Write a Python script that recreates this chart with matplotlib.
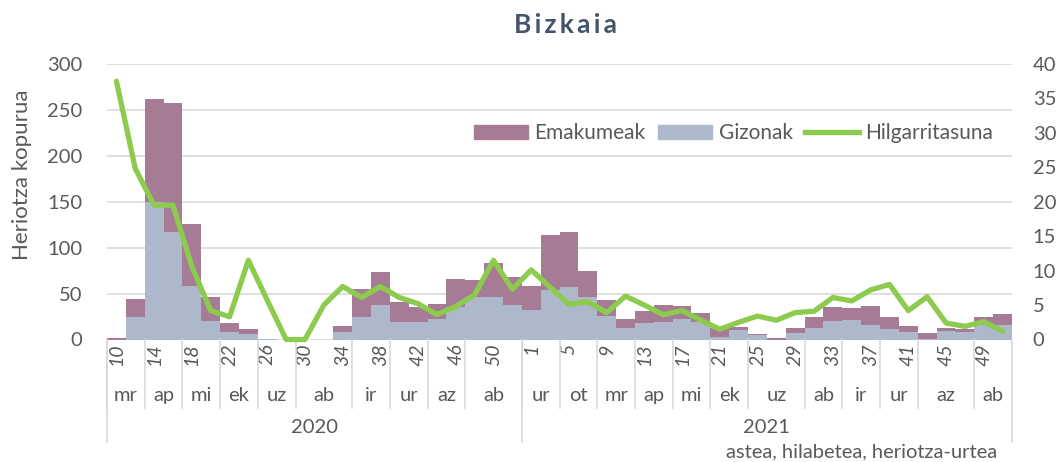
import numpy as np
import matplotlib.pyplot as plt
from matplotlib.patches import Patch
from matplotlib.lines import Line2D
import matplotlib.transforms as mtransforms

plt.rcParams['font.family'] = ['Lato', 'DejaVu Sans']

# week of each bar (2-week steps), 2020 then 2021
weeks_2020 = [10, 12, 14, 16, 18, 20, 22, 24, 26, 28, 30, 32, 34, 36, 38, 40, 42, 44, 46, 48, 50, 52]
weeks_2021 = [1, 3, 5, 7, 9, 11, 13, 15, 17, 19, 21, 23, 25, 27, 29, 31, 33, 35, 37, 39, 41, 43, 45, 47, 49, 51]

# months (label, number of bars) per year
months_2020 = ['mr', 'ap', 'mi', 'ek', 'uz', 'ab', 'ir', 'ur', 'az', 'ab']
month_bars_2020 = [2, 2, 2, 2, 2, 3, 2, 2, 2, 3]
months_2021 = ['ur', 'ot', 'mr', 'ap', 'mi', 'ek', 'uz', 'ab', 'ir', 'ur', 'az', 'ab']
month_bars_2021 = [2, 2, 2, 2, 2, 2, 3, 2, 2, 2, 3, 2]
years = ['2020', '2021']

gizonak = [0, 25, 150, 117, 58, 20, 8, 6, 1, 0, 0, 0, 8, 25, 38, 19, 19, 22, 35, 46, 46, 38,
           32, 54, 57, 46, 26, 13, 18, 19, 22, 19, 3, 10, 5, 0, 7, 12, 20, 21, 16, 11, 8, 1, 9, 8, 16, 16]
emakumeak = [2, 19, 112, 140, 68, 26, 10, 5, 0, 0, 0, 0, 7, 30, 36, 22, 16, 17, 31, 19, 37, 30,
             26, 60, 60, 29, 17, 9, 13, 19, 15, 10, 10, 4, 1, 2, 6, 13, 15, 13, 21, 14, 7, 6, 3, 3, 9, 12]
hilgarritasuna = [37.5, 24.8, 19.5, 19.5, 10.6, 4.2, 3.3, 11.5, 5.7, 0, 0, 5.0, 7.7, 6.1, 7.7, 6.1,
                  5.2, 3.6, 4.8, 6.5, 11.5, 7.3, 10.1, 7.6, 5.1, 5.5, 3.9, 6.3, 5.0, 3.6, 4.2, 2.8,
                  1.5, 2.5, 3.4, 2.8, 3.9, 4.1, 6.1, 5.6, 7.2, 8.0, 4.2, 6.2, 2.4, 1.9, 2.6, 1.2]

c_em = '#A57B95'
c_giz = '#ADB9CA'
c_line = '#8DCB4E'
c_text = '#595959'
c_grid = '#D9D9D9'

W, H = 1061, 462
fig = plt.figure(figsize=(W / 100, H / 100), dpi=100)
left, right, top, bottom = 107, 1012, 64, 339.5
ax = fig.add_axes([left / W, (H - bottom) / H, (right - left) / W, (bottom - top) / H])

week_labels = weeks_2020 + weeks_2021
x = np.arange(len(week_labels))

ax.bar(x, gizonak, width=1.0, color=c_giz, zorder=2)
ax.bar(x, emakumeak, width=1.0, bottom=gizonak, color=c_em, zorder=2)
ax.set_xlim(-0.5, len(x) - 0.5)
ax.set_ylim(0, 300)
ax.set_yticks(np.arange(0, 301, 50))
ax.grid(axis='y', color=c_grid, linewidth=1.2, zorder=0)
ax.set_axisbelow(True)
for s in ax.spines.values():
    s.set_visible(False)
ax.tick_params(axis='y', length=0, pad=18, labelsize=14.5, labelcolor=c_text)

ax2 = ax.twinx()
ax2.plot(x, hilgarritasuna, color=c_line, linewidth=3.8, solid_joinstyle='round',
         solid_capstyle='round', clip_on=False, zorder=3)
ax2.set_ylim(0, 40)
ax2.set_yticks(np.arange(0, 41, 5))
for s in ax2.spines.values():
    s.set_visible(False)
ax2.tick_params(axis='y', length=0, pad=15, labelsize=14.5, labelcolor=c_text)

# week tick labels every second bar
shown = [i for i in range(len(x)) if i % 2 == 0]
ax.set_xticks(shown)
ax.set_xticklabels([str(week_labels[i]) for i in shown], rotation=90, fontstyle='italic')
ax.tick_params(axis='x', length=0, pad=3, labelsize=14, labelcolor=c_text)

# month and year rows
trans = mtransforms.blended_transform_factory(ax.transData, ax.transAxes)
month_row = -0.2486
year_row = -0.372
start = -0.5
for months, counts, yr in [(months_2020, month_bars_2020, years[0]),
                           (months_2021, month_bars_2021, years[1])]:
    year_start = start
    for m, n in zip(months, counts):
        ax.text(start + n / 2, -0.2015, m, transform=trans, ha='center', va='center',
                fontsize=14.5, color=c_text)
        ax.plot([start, start], [0, month_row], transform=trans, color=c_grid,
                linewidth=1.2, clip_on=False)
        start += n
    ax.plot([year_start, year_start], [0, year_row], transform=trans, color=c_grid,
            linewidth=1.2, clip_on=False)
    ax.text((year_start + start) / 2, -0.321, yr, transform=trans, ha='center', va='center',
            fontsize=14.5, color=c_text)
ax.plot([start, start], [0, year_row], transform=trans, color=c_grid, linewidth=1.2, clip_on=False)

fig.text(565 / W, 1 - 25 / H, '\u2009'.join('Bizkaia'), ha='center', va='center', fontsize=19,
         fontweight='bold', color='#44546A')
fig.text(22 / W, 1 - 175 / H, 'Heriotza kopurua', rotation=90, ha='center', va='center',
         fontsize=16, color=c_text)
fig.text(997 / W, 1 - 452 / H, 'astea, hilabetea, heriotza-urtea', ha='right', va='center',
         fontsize=14.5, color=c_text)

handles = [Patch(color=c_em), Patch(color=c_giz), Line2D([], [], color=c_line, linewidth=3.8)]
fig.legend(handles, ['Emakumeak', 'Gizonak', 'Hilgarritasuna'], ncol=3, frameon=False,
           loc='center right', bbox_to_anchor=(1008 / W, 1 - 133 / H), fontsize=15,
           handlelength=2.6, handleheight=0.65, handletextpad=0.3, columnspacing=0.6,
           labelcolor=c_text, borderpad=0.2)

fig.savefig('out.png', dpi=100)
